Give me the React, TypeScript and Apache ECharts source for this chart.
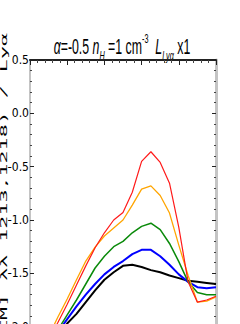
import React, { useEffect, useRef } from "react";
import * as echarts from "echarts";

const xValues = [0.5, 0.75, 1.0, 1.25, 1.5, 1.75, 2.0, 2.25, 2.5, 2.75, 3.0, 3.25, 3.5, 3.75, 4.0, 4.25, 4.5, 4.75, 5.0];

const blackValues = [-2.22, -2.09, -1.97, -1.88, -1.77, -1.66, -1.56, -1.49, -1.43, -1.42, -1.44, -1.47, -1.49, -1.52, -1.545, -1.57, -1.58, -1.59, -1.6];
const blueValues = [-2.17, -2.05, -1.93, -1.81, -1.7, -1.6, -1.51, -1.44, -1.385, -1.32, -1.28, -1.28, -1.34, -1.42, -1.51, -1.58, -1.63, -1.64, -1.63];
const greenValues = [-2.17, -2.03, -1.89, -1.75, -1.6, -1.45, -1.34, -1.25, -1.2, -1.12, -1.06, -1.03, -1.09, -1.22, -1.39, -1.58, -1.68, -1.7, -1.7];
const orangeValues = [-2.09, -1.91, -1.74, -1.56, -1.385, -1.255, -1.15, -1.075, -1.0, -0.86, -0.71, -0.68, -0.77, -0.935, -1.235, -1.52, -1.77, -1.76, -1.72];
const redValues = [-2.13, -1.96, -1.79, -1.61, -1.43, -1.26, -1.12, -1.0, -0.93, -0.74, -0.45, -0.36, -0.46, -0.655, -1.07, -1.58, -1.77, -1.75, -1.715];

const yAxisName = "ΣM] λλ 1213,1218) / Lyα";

const NARROW = "'Liberation Sans Narrow', 'DejaVu Sans Condensed', 'Roboto Condensed', sans-serif";

function makeSeries(vals: number[], color: string, width: number) {
  return {
    type: "line",
    data: xValues.map((x, i) => [x, vals[i]]),
    showSymbol: false,
    symbol: "none",
    clip: true,
    lineStyle: { color, width },
    itemStyle: { color },
  };
}

export default function App() {
  const ref = useRef<HTMLDivElement>(null);
  useEffect(() => {
    const chart = echarts.init(ref.current!, null, { renderer: "svg" });
    const yCommon = {
      type: "value",
      min: -2.5,
      max: 0.5,
      interval: 0.5,
      splitLine: { show: false },
      minorTick: { show: true, splitNumber: 5, length: 2, lineStyle: { color: "#444", width: 1 } },
      axisTick: { show: true, inside: true, length: 4, lineStyle: { color: "#222", width: 1 } },
    };
    const xCommon = {
      type: "value",
      min: 0,
      max: 5,
      interval: 1,
      splitLine: { show: false },
      axisLabel: { show: false },
      axisLine: { show: true, onZero: false, lineStyle: { color: "#222", width: 2 } },
      axisTick: { show: true, inside: true, length: 5, lineStyle: { color: "#222", width: 1 } },
      minorTick: { show: true, splitNumber: 5, length: 3, lineStyle: { color: "#444", width: 1 } },
    };
    chart.setOption({
      animation: false,
      backgroundColor: "#fff",
      grid: { left: 30, right: 24, top: 60, height: 320, containLabel: false },
      xAxis: [
        { ...xCommon, position: "bottom" },
        { ...xCommon, position: "top" },
      ],
      yAxis: [
        {
          ...yCommon,
          position: "left",
          axisLine: { show: true, onZero: false, lineStyle: { color: "#c4c4c4", width: 2 } },
          axisLabel: {
            show: true,
            margin: 1,
            color: "#000",
            fontSize: 12,
            fontFamily: NARROW,
            formatter: (v: number) =>
              v < 0 ? "{m|-}{d|" + Math.abs(v).toFixed(1) + "}" : "{d|" + v.toFixed(1) + "}",
            rich: {
              m: { fontSize: 12, fontFamily: "'DejaVu Sans', sans-serif", color: "#000" },
              d: { fontSize: 12, fontFamily: NARROW, color: "#000" },
            },
          },
        },
        {
          ...yCommon,
          position: "right",
          axisLine: { show: true, onZero: false, lineStyle: { color: "#c4c4c4", width: 3 } },
          axisLabel: { show: false },
        },
      ],
      series: [
        makeSeries(blackValues, "#000000", 2),
        makeSeries(blueValues, "#0000ff", 2),
        makeSeries(greenValues, "#0a8a0a", 1.5),
        makeSeries(orangeValues, "#ffa500", 1.3),
        makeSeries(redValues, "#ff1a1a", 1.2),
      ],
      graphic: [
        {
          type: "text",
          x: 122,
          y: 47,
          scaleX: 0.56,
          style: {
            text: "{i|α}{n|=-0.5 }{i|n}{sub|H}{n| =1 cm}{sup|-3}{n|  }{i|L}{sub|Lyα}{n| x1}",
            align: "center",
            verticalAlign: "middle",
            textAlign: "center",
            textVerticalAlign: "middle",
            fill: "#000",
            rich: {
              n: { fontFamily: "Liberation Sans", fontSize: 22, lineHeight: 30, verticalAlign: "middle", color: "#000" },
              i: { fontFamily: "Liberation Sans", fontStyle: "italic", fontSize: 22, lineHeight: 30, verticalAlign: "middle", color: "#000" },
              sub: { fontFamily: "Liberation Sans", fontStyle: "italic", fontSize: 13, lineHeight: 30, verticalAlign: "bottom", color: "#000" },
              sup: { fontFamily: "Liberation Sans", fontSize: 13, lineHeight: 30, verticalAlign: "top", color: "#000" },
            },
          },
        },
        {
          type: "text",
          x: 4,
          y: 33,
          rotation: Math.PI / 2,
          scaleX: 2.55,
          style: {
            text: yAxisName,
            fontFamily: "'DejaVu Sans Mono', monospace",
            fontSize: 8.5,
            fill: "#000",
            align: "right",
            verticalAlign: "middle",
            textAlign: "right",
            textVerticalAlign: "middle",
          },
        },
      ],
    });
    return () => chart.dispose();
  }, []);
  return (
    <div style={{ position: "fixed", left: 0, top: 0, width: 240, height: 324, overflow: "hidden", background: "#fff" }}>
      <div ref={ref} style={{ width: 240, height: 400 }} />
    </div>
  );
}
